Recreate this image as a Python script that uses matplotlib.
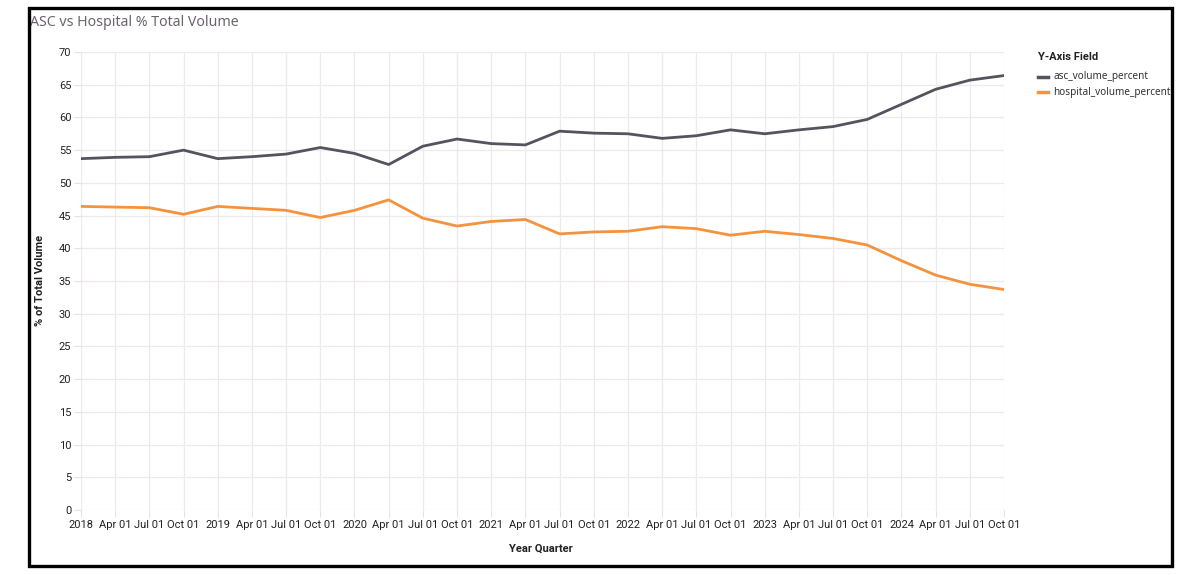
import matplotlib.pyplot as plt
from matplotlib import font_manager
from matplotlib.patches import Rectangle

# quarterly share of total volume, 2018 Q1 .. 2024 Q4
quarters = ['2018', 'Apr 01', 'Jul 01', 'Oct 01',
            '2019', 'Apr 01', 'Jul 01', 'Oct 01',
            '2020', 'Apr 01', 'Jul 01', 'Oct 01',
            '2021', 'Apr 01', 'Jul 01', 'Oct 01',
            '2022', 'Apr 01', 'Jul 01', 'Oct 01',
            '2023', 'Apr 01', 'Jul 01', 'Oct 01',
            '2024', 'Apr 01', 'Jul 01', 'Oct 01']
asc_volume_percent = [53.7, 53.9, 54.0, 55.0, 53.7, 54.0, 54.4, 55.4,
                      54.5, 52.8, 55.6, 56.7, 56.0, 55.8, 57.9, 57.6,
                      57.5, 56.8, 57.2, 58.1, 57.5, 58.1, 58.6, 59.7,
                      62.0, 64.3, 65.7, 66.4]
hospital_volume_percent = [46.4, 46.3, 46.2, 45.2, 46.4, 46.1, 45.8, 44.7,
                           45.8, 47.4, 44.6, 43.4, 44.1, 44.4, 42.2, 42.5,
                           42.6, 43.3, 43.0, 42.0, 42.6, 42.1, 41.5, 40.5,
                           38.1, 35.9, 34.5, 33.7]
y_ticks = list(range(0, 75, 5))

installed = {f.name for f in font_manager.fontManager.ttflist}
narrow = 'Liberation Sans Narrow' if 'Liberation Sans Narrow' in installed else 'Roboto'
plt.rcParams['font.family'] = ['Noto Sans', 'DejaVu Sans']

W, H = 1200, 575
fig = plt.figure(figsize=(12, 5.75), dpi=100)
ax = fig.add_axes([81 / W, 1 - 510 / H, (1004 - 81) / W, (510 - 52) / H])

x = list(range(len(quarters)))
ax.plot(x, asc_volume_percent, color='#55535d', lw=2, label='asc_volume_percent', solid_joinstyle='round')
ax.plot(x, hospital_volume_percent, color='#f5923e', lw=2, label='hospital_volume_percent', solid_joinstyle='round')

ax.set_xlim(0, len(quarters) - 1)
ax.set_ylim(0, 70)
ax.set_xticks(x)
ax.set_xticklabels(quarters, fontsize=8, family=narrow, color='#222222')
ax.set_yticks(y_ticks)
ax.set_yticklabels([str(v) for v in y_ticks], fontsize=8, family=narrow, color='#222222')
ax.tick_params(axis='both', length=5, color='#e6e0e0', width=0.8, pad=2)
ax.grid(True, color='#efe9ea', lw=0.9)
ax.set_axisbelow(True)
for s in ax.spines.values():
    s.set_visible(False)

fig.text(30 / W, 1 - 22 / H, 'ASC vs Hospital % Total Volume', fontsize=10.2,
         color='#6e6270', ha='left', va='center')
fig.text(40 / W, 1 - 280 / H, '% of Total Volume', rotation=90, fontsize=8,
         fontweight='bold', family=narrow, ha='center', va='center', color='#222222')
fig.text(541 / W, 1 - 549 / H, 'Year Quarter', fontsize=8, fontweight='bold',
         family=narrow, ha='center', va='center', color='#222222')

# legend
fig.text(1038 / W, 1 - 57 / H, 'Y-Axis Field', fontsize=8, fontweight='bold',
         family=narrow, ha='left', va='center', color='#222222')
leg_rows = [('asc_volume_percent', '#55535d', 77), ('hospital_volume_percent', '#f5923e', 92)]
for name, col, yy in leg_rows:
    fig.add_artist(plt.Line2D([1038 / W, 1048 / W], [1 - yy / H, 1 - yy / H], color=col, lw=2.5))
    fig.text(1053 / W, 1 - yy / H, name, fontsize=7.2, ha='left', va='center', color='#333333')

# white margin on the right covers the overflowing legend text, then the black frame
fig.add_artist(Rectangle((1172 / W, 0), 28 / W, 1, transform=fig.transFigure,
                         facecolor='white', edgecolor='none', zorder=10))
fig.add_artist(Rectangle((29 / W, 1 - 565.5 / H), (1171.5 - 29) / W, (565.5 - 7.5) / H,
                         transform=fig.transFigure, facecolor='none', edgecolor='black',
                         lw=2.4, zorder=11))

fig.savefig('out.png', dpi=100)
